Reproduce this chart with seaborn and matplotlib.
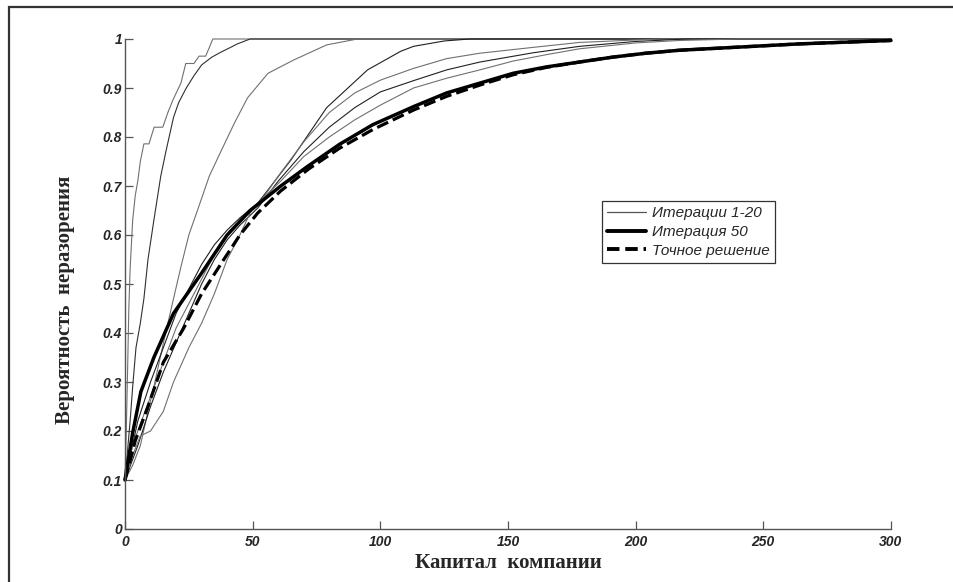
import matplotlib
matplotlib.use("Agg")
import matplotlib.pyplot as plt
import seaborn as sns
from matplotlib.lines import Line2D
from matplotlib.patches import Rectangle

# thin curves: iterations 1-20
it_a_x = [0, 0.5, 1, 1.5, 2, 3, 4, 5, 6, 7.4, 9.4, 11.4, 14.8, 16.8, 18.8, 21.9, 23.8, 27, 29, 31.6, 34.4, 300]
it_a_y = [0.1, 0.2, 0.32, 0.45, 0.53, 0.63, 0.68, 0.71, 0.75, 0.786, 0.786, 0.82, 0.82, 0.85, 0.876, 0.91, 0.95, 0.95, 0.965, 0.965, 1.0, 1.0]

it_b_x = [0, 1, 2, 3, 4.3, 6, 7.4, 9, 11.3, 14, 16, 19, 21, 24, 27, 30, 34, 37.5, 41, 44, 49, 300]
it_b_y = [0.1, 0.16, 0.22, 0.29, 0.37, 0.42, 0.47, 0.55, 0.63, 0.72, 0.77, 0.84, 0.87, 0.9, 0.925, 0.947, 0.963, 0.973, 0.982, 0.99, 1.0, 1.0]

it_c_x = [0, 3, 6, 9, 11.3, 15.3, 19, 21.9, 25, 29.7, 33, 37.5, 43, 48, 56, 66, 79, 91, 300]
it_c_y = [0.1, 0.13, 0.17, 0.24, 0.29, 0.386, 0.47, 0.535, 0.6, 0.67, 0.72, 0.77, 0.83, 0.88, 0.93, 0.957, 0.988, 1.0, 1.0]

it_d_x = [0, 5, 10, 15, 20, 25, 30, 35, 40, 45, 52, 65, 79, 95, 108, 113, 125, 135, 300]
it_d_y = [0.1, 0.22, 0.3, 0.37, 0.44, 0.49, 0.54, 0.58, 0.61, 0.635, 0.665, 0.753, 0.86, 0.937, 0.975, 0.985, 0.996, 1.0, 1.0]

it_e_x = [0, 5, 10, 15, 20, 25, 30, 35, 40, 45, 52, 60, 70, 80, 90, 100, 113, 126, 139, 160, 178, 200, 210, 300]
it_e_y = [0.12, 0.2, 0.27, 0.34, 0.41, 0.46, 0.51, 0.56, 0.6, 0.63, 0.66, 0.72, 0.79, 0.85, 0.89, 0.916, 0.94, 0.96, 0.971, 0.983, 0.993, 0.998, 1.0, 1.0]

it_f_x = [0, 5, 10, 15, 20, 25, 30, 35, 40, 45, 52, 60, 70, 80, 90, 100, 113, 126, 139, 160, 178, 200, 220, 300]
it_f_y = [0.1, 0.17, 0.25, 0.32, 0.38, 0.44, 0.5, 0.55, 0.59, 0.62, 0.655, 0.71, 0.77, 0.82, 0.86, 0.892, 0.915, 0.937, 0.953, 0.972, 0.985, 0.995, 1.0, 1.0]

it_g_x = [0, 3, 6, 10, 15, 19, 25, 30, 35, 40, 45, 49, 55, 61, 70, 80, 90, 100, 113, 126, 139, 152, 165, 178, 200, 217, 240, 300]
it_g_y = [0.1, 0.15, 0.19, 0.2, 0.24, 0.3, 0.37, 0.42, 0.48, 0.55, 0.6, 0.645, 0.68, 0.71, 0.76, 0.8, 0.835, 0.865, 0.9, 0.92, 0.937, 0.955, 0.968, 0.98, 0.992, 0.997, 1.0, 1.0]

# iteration 50
it50_x = [0, 3, 6.2, 11.3, 19, 29.7, 40, 49, 61, 71.5, 84, 97, 113, 126, 139, 152, 165, 178, 191, 204, 217, 264, 300]
it50_y = [0.1, 0.196, 0.28, 0.35, 0.44, 0.52, 0.6, 0.65, 0.7, 0.74, 0.785, 0.825, 0.862, 0.89, 0.91, 0.93, 0.943, 0.953, 0.963, 0.971, 0.977, 0.99, 0.997]

# exact solution
exact_x = [0, 4, 9, 15, 23, 30, 38.7, 45, 52, 61, 72, 84, 97, 113, 126, 139, 152, 165, 178, 191, 204, 217, 264, 300]
exact_y = [0.1, 0.18, 0.25, 0.34, 0.41, 0.48, 0.55, 0.6, 0.645, 0.69, 0.735, 0.777, 0.815, 0.855, 0.883, 0.906, 0.927, 0.942, 0.953, 0.963, 0.971, 0.977, 0.99, 0.997]

thin_curves = [(it_a_x, it_a_y, "#707070"), (it_b_x, it_b_y, "#303030"),
               (it_c_x, it_c_y, "#707070"), (it_d_x, it_d_y, "#202020"),
               (it_e_x, it_e_y, "#707070"), (it_f_x, it_f_y, "#202020"),
               (it_g_x, it_g_y, "#707070")]

x_ticks = [0, 50, 100, 150, 200, 250, 300]
y_ticks = [0, 0.1, 0.2, 0.3, 0.4, 0.5, 0.6, 0.7, 0.8, 0.9, 1]

sns.set_style("ticks")
plt.rcParams["font.family"] = ["Liberation Sans", "DejaVu Sans"]

fig = plt.figure(figsize=(9.54, 5.82), dpi=100)
ax = fig.add_axes([125 / 954, 1 - 529 / 582, (891 - 125) / 954, (529 - 39) / 582])

for xs, ys, col in thin_curves:
    sns.lineplot(x=xs, y=ys, ax=ax, color=col, lw=0.8, estimator=None, sort=False)
sns.lineplot(x=exact_x, y=exact_y, ax=ax, color="black", lw=2.3, estimator=None,
             sort=False, dashes=False, linestyle=(0, (3.8, 1.6)))
sns.lineplot(x=it50_x, y=it50_y, ax=ax, color="black", lw=2.5, estimator=None, sort=False)
for ln in ax.lines:
    ln.set_clip_on(False)

ax.set_xlim(0, 300)
ax.set_ylim(0, 1)
ax.set_xticks(x_ticks)
ax.set_yticks(y_ticks)
ax.set_xticklabels([f"{v:g}" for v in x_ticks])
ax.set_yticklabels([f"{v:g}" for v in y_ticks])
for lab in ax.get_xticklabels() + ax.get_yticklabels():
    lab.set_fontstyle("italic")
    lab.set_fontweight("bold")
    lab.set_fontsize(10)
ax.tick_params(axis="y", direction="in", length=6, width=0.9, color="#555555", pad=2)
ax.tick_params(axis="x", direction="in", length=6, width=0.9, color="#555555", pad=4)
sns.despine(ax=ax)
for s in ["left", "bottom"]:
    ax.spines[s].set_color("#555555")
    ax.spines[s].set_linewidth(1.0)

ax.set_xlabel("Капитал  компании", family="Liberation Serif", fontweight="bold",
              fontsize=15, labelpad=3)
ax.set_ylabel("Вероятность  неразорения", family="Liberation Serif", fontweight="bold",
              fontsize=15)
ax.yaxis.set_label_coords((75 - 125) / 766, (529 - 300) / 490)

handles = [Line2D([], [], color="#555555", lw=0.9),
           Line2D([], [], color="black", lw=2.8),
           Line2D([], [], color="black", lw=2.8, linestyle=(0, (3.2, 1.5)))]
labels = ["Итерации 1-20", "Итерация 50", "Точное решение"]
leg = ax.legend(handles, labels, loc="upper left", bbox_to_anchor=(602 / 954, 1 - 201 / 582),
                bbox_transform=fig.transFigure, fancybox=False, framealpha=1,
                edgecolor="#333333", handlelength=2.5, handletextpad=0.4,
                borderpad=0.35, labelspacing=0.3, borderaxespad=0,
                prop={"style": "italic", "size": 11})
leg.get_frame().set_linewidth(0.9)

# outer frame of the figure
fig.patches.append(Rectangle((9 / 954, -0.05), 1.05, 1 - 7 / 582 + 0.05,
                             transform=fig.transFigure, fill=False,
                             edgecolor="#333333", lw=1.6, clip_on=False))

fig.savefig("out.png", dpi=100)
